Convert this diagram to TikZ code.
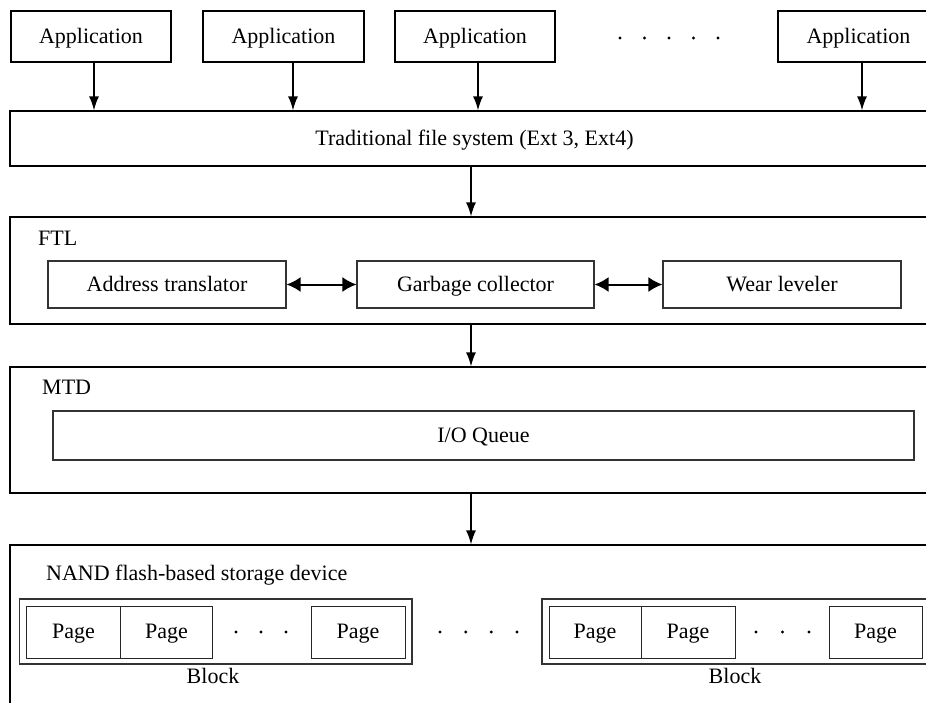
\documentclass[tikz,border=0pt]{standalone}
\usepackage{fontspec}
\setmainfont{Liberation Serif}
\usetikzlibrary{arrows.meta}
\begin{document}
\begin{tikzpicture}[x=1pt,y=-1pt,
  every node/.style={font=\fontsize{22}{26}\selectfont},
  txt/.style={text height=15pt,text depth=2pt},
  outerbox/.style={draw=black,line width=1.2pt,rectangle,inner sep=0pt,txt},
  innerbox/.style={draw=black!80,line width=1.1pt,rectangle,inner sep=0pt,txt},
  pagebox/.style={draw=black!85,line width=1pt,rectangle,inner sep=0pt,minimum height=52pt,txt},
  arr/.style={line width=1.5pt,-{Latex[length=14pt,width=10pt]}},
  darr/.style={line width=2pt,{Latex[length=14pt,width=15pt]}-{Latex[length=14pt,width=15pt]}},
  dotmark/.style={circle,fill=black,inner sep=0pt,minimum size=3.2pt},
  lbl/.style={anchor=base west,inner sep=0pt}
]
\clip (0,0) rectangle (926,702);
\fill[white] (0,0) rectangle (926,702);

% applications
\node[outerbox,minimum width=160pt,minimum height=51pt] (app1) at (91,36.5) {Application};
\node[outerbox,minimum width=161pt,minimum height=51pt] (app2) at (283.5,36.5) {Application};
\node[outerbox,minimum width=160pt,minimum height=51pt] (app3) at (475,36.5) {Application};
\node[outerbox,minimum width=161pt,minimum height=51pt] (app4) at (858.5,36.5) {Application};
\foreach \i/\x in {1/620,2/644.5,3/669,4/693.5,5/718}
  \node[dotmark] (ad\i) at (\x,38) {};

% file system
\node[outerbox,minimum width=929pt,minimum height=55pt] (fs) at (474.5,138.5) {Traditional file system (Ext 3, Ext4)};

\draw[arr] ([xshift=3pt]app1.south) -- ([xshift=3pt]app1.south |- fs.north);
\draw[arr] ([xshift=9.5pt]app2.south) -- ([xshift=9.5pt]app2.south |- fs.north);
\draw[arr] ([xshift=3pt]app3.south) -- ([xshift=3pt]app3.south |- fs.north);
\draw[arr] ([xshift=3.5pt]app4.south) -- ([xshift=3.5pt]app4.south |- fs.north);

% FTL
\node[outerbox,minimum width=929pt,minimum height=107pt] (ftl) at (474.5,270.5) {};
\node[lbl] (ftllbl) at (38,245) {FTL};
\node[innerbox,minimum width=238pt,minimum height=47pt] (addr) at (167,284.5) {Address translator};
\node[innerbox,minimum width=237pt,minimum height=47pt] (gc) at (475.5,284.5) {Garbage collector};
\node[innerbox,minimum width=238pt,minimum height=47pt] (wl) at (782,284.5) {Wear leveler};
\draw[darr] (addr.east) -- (gc.west);
\draw[darr] (gc.east) -- (wl.west);

% MTD
\node[outerbox,minimum width=929pt,minimum height=126pt] (mtd) at (474.5,430) {};
\node[lbl] (mtdlbl) at (42,394) {MTD};
\node[innerbox,minimum width=861pt,minimum height=49pt] (ioq) at (483.5,435.5) {I/O Queue};

% NAND
\node[outerbox,minimum width=929pt,minimum height=180pt] (nand) at (474.5,635) {};
\node[lbl] (nandlbl) at (46,580) {NAND flash-based storage device};

% vertical arrows between layers
\coordinate (cx) at (471,0);
\draw[arr] (cx |- fs.south) -- (cx |- ftl.north);
\draw[arr] (cx |- ftl.south) -- (cx |- mtd.north);
\draw[arr] (cx |- mtd.south) -- (cx |- nand.north);

% blocks
\node[innerbox,minimum width=392.5pt,minimum height=65pt] (blk1) at (215.75,631.5) {};
\node[pagebox,minimum width=94pt] (p11) at (73.5,632) {Page};
\node[pagebox,minimum width=92pt] (p12) at (166.5,632) {Page};
\node[pagebox,minimum width=94pt] (p13) at (358,632) {Page};
\foreach \i/\x in {1/236,2/261,3/286}
  \node[dotmark] (bd1\i) at (\x,632) {};
\node[anchor=base,inner sep=0pt] (bl1) at (213,683) {Block};

\foreach \i/\x in {1/440,2/465.7,3/491.3,4/517}
  \node[dotmark] (md\i) at (\x,632) {};

\node[innerbox,minimum width=392pt,minimum height=65pt] (blk2) at (738,631.5) {};
\node[pagebox,minimum width=92pt] (p21) at (595,632) {Page};
\node[pagebox,minimum width=94pt] (p22) at (688,632) {Page};
\node[pagebox,minimum width=93pt] (p23) at (875.5,632) {Page};
\foreach \i/\x in {1/756,2/782.5,3/809}
  \node[dotmark] (bd2\i) at (\x,632) {};
\node[anchor=base,inner sep=0pt] (bl2) at (735,683) {Block};
\end{tikzpicture}
\end{document}
